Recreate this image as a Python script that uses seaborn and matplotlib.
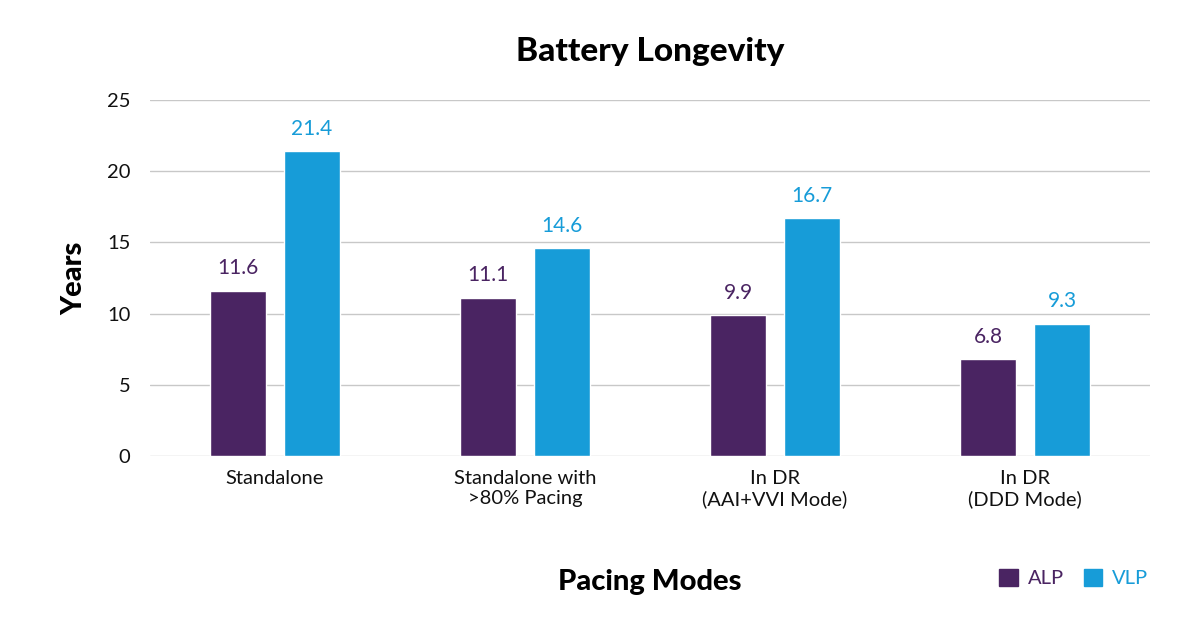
import seaborn as sns
import matplotlib.pyplot as plt
import pandas as pd

modes = ['Standalone', 'Standalone with\n>80% Pacing', 'In DR\n(AAI+VVI Mode)', 'In DR\n(DDD Mode)']
alp = [11.6, 11.1, 9.9, 6.8]
vlp = [21.4, 14.6, 16.7, 9.3]
series = ['ALP', 'VLP']
colors = ['#4a2462', '#179cd8']

df = pd.DataFrame({
    'mode': modes * 2,
    'years': alp + vlp,
    'device': ['ALP'] * len(modes) + ['VLP'] * len(modes),
})

sns.set_style('white')
plt.rcParams['font.family'] = ['Lato', 'DejaVu Sans']

fig = plt.figure(figsize=(12, 6.27), dpi=100)
ax = fig.add_axes([0.125, 0.2727, 0.8333, 0.5678])

sns.barplot(data=df, x='mode', y='years', hue='device', hue_order=series,
            palette=colors, width=0.592, gap=0.243, saturation=1, ax=ax, legend=False)

for cont, c in zip(ax.containers, colors):
    ax.bar_label(cont, fmt='%.1f', padding=9, color=c, fontsize=15)

ax.set_ylim(0, 25)
ax.set_xlim(-0.5, 3.5)
ax.set_yticks([0, 5, 10, 15, 20, 25])
ax.grid(axis='y', color='#c8c8c8', linewidth=1)
ax.set_axisbelow(True)
for s in ax.spines.values():
    s.set_visible(False)
ax.tick_params(axis='y', labelsize=14.5, colors='#111111', pad=14, length=0)
ax.tick_params(axis='x', labelsize=14.5, colors='#111111', pad=10, length=0)
ax.set_xlabel('Pacing Modes', fontsize=21, fontweight='black', labelpad=44, color='black')
ax.set_ylabel('Years', fontsize=21, fontweight='black', labelpad=14, color='black')
ax.set_title('Battery Longevity', fontsize=24, fontweight='black', pad=28, color='black')

handles = [plt.Rectangle((0, 0), 1, 1, color=c) for c in colors]
leg = fig.legend(handles, series, loc='center right', bbox_to_anchor=(0.972, 0.078),
                 ncol=2, frameon=False, fontsize=14.5, handlelength=0.9, handleheight=0.9,
                 columnspacing=1.0, handletextpad=0.5)
for t, c in zip(leg.get_texts(), colors):
    t.set_color(c)

fig.savefig('out.png', dpi=100)
